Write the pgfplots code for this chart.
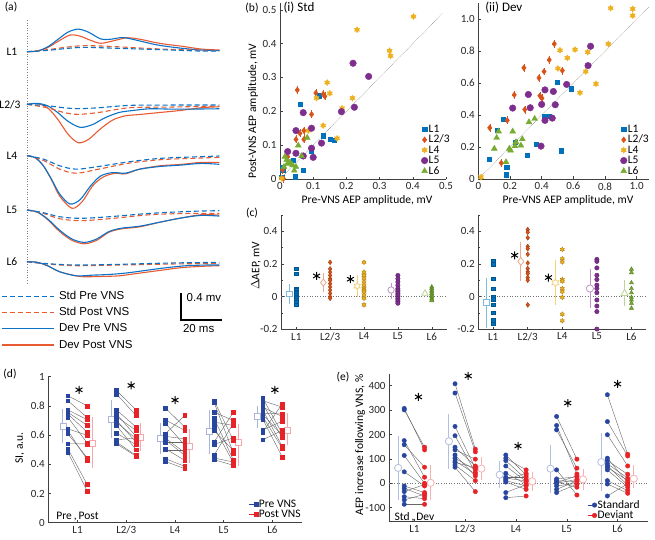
\documentclass[border=0pt]{standalone}
\usepackage{pgfplots}
\usepackage{pgfplotstable}
\pgfplotsset{compat=1.18}
\usepackage{fontspec}
\setmainfont{Carlito}
\newfontfamily\arialf{Liberation Sans}
\definecolor{cA}{RGB}{0,114,189}
\definecolor{cB}{RGB}{217,83,25}
\definecolor{cC}{RGB}{237,177,32}
\definecolor{cD}{RGB}{126,47,142}
\definecolor{cE}{RGB}{119,172,48}
\definecolor{ablue}{RGB}{10,115,200}
\definecolor{ared}{RGB}{232,90,50}
\definecolor{dblue}{RGB}{40,70,160}
\definecolor{dred}{RGB}{232,35,40}
\newcommand{\tsz}{\fontsize{11}{12}\selectfont}
\newcommand{\lsz}{\fontsize{11.5}{13}\selectfont}
\newcommand{\asz}{\arialf\fontsize{11.5}{13}\selectfont}
\pgfdeclareplotmark{hexagram}{%
  \pgfpathmoveto{\pgfqpointpolar{90}{\pgfplotmarksize}}%
  \pgfpathlineto{\pgfqpointpolar{120}{0.577\pgfplotmarksize}}%
  \pgfpathlineto{\pgfqpointpolar{150}{\pgfplotmarksize}}%
  \pgfpathlineto{\pgfqpointpolar{180}{0.577\pgfplotmarksize}}%
  \pgfpathlineto{\pgfqpointpolar{210}{\pgfplotmarksize}}%
  \pgfpathlineto{\pgfqpointpolar{240}{0.577\pgfplotmarksize}}%
  \pgfpathlineto{\pgfqpointpolar{270}{\pgfplotmarksize}}%
  \pgfpathlineto{\pgfqpointpolar{300}{0.577\pgfplotmarksize}}%
  \pgfpathlineto{\pgfqpointpolar{330}{\pgfplotmarksize}}%
  \pgfpathlineto{\pgfqpointpolar{0}{0.577\pgfplotmarksize}}%
  \pgfpathlineto{\pgfqpointpolar{30}{\pgfplotmarksize}}%
  \pgfpathlineto{\pgfqpointpolar{60}{0.577\pgfplotmarksize}}%
  \pgfpathclose
  \pgfusepathqfillstroke}
\tikzset{
  sp/.style={ablue, line width=1.1pt, dash pattern=on 5pt off 3pt},
  so/.style={ared, line width=1.1pt, dash pattern=on 5pt off 3pt},
  dp/.style={ablue, line width=1.1pt},
  do/.style={ared, line width=1.1pt},
}
\pgfplotsset{
  base/.style={scale only axis, anchor=south west, clip=false,
    axis x line*=bottom, axis y line*=left,
    tick align=inside, major tick length=2.5pt, minor tick length=1.5pt,
    axis line style={black!75, line width=0.5pt},
    every tick/.style={black!75, line width=0.5pt},
    tick label style={font=\tsz, text=black!85},
    /pgf/number format/assume math mode=true,
    legend cell align=left},
  cat/.style={xtick={1,2,3,4,5}, xticklabels={L1,L2/3,L4,L5,L6}},
  zero/.style={black!55, dotted, line width=0.6pt, forget plot},
  leg/.style={draw=none, fill=none, font=\lsz, row sep=0pt, inner sep=0pt,
    nodes={inner sep=0.8pt, text height=7.6pt, text depth=1.2pt}},
  star/.style={only marks, black, mark=asterisk, mark size=4pt, line width=1pt, forget plot},
}
\newcommand{\mean}[7]{\addplot[only marks, #1, mark=#2, mark size=#3, mark options={fill=white, line width=0.8pt}, forget plot, error bars/.cd, y dir=both, y explicit, error mark=none, error bar style={line width=0.9pt}] coordinates {(#4,#5) += (0,#6) -= (0,#7)};}
\newcommand{\pairs}[4]{%
  \addplot[black!60, line width=0.4pt, forget plot, quiver={u=0.4, v=\thisrow{b}-\thisrow{a}}] table[x expr=#2-0.2, y=a] {#1};
  \addplot[only marks, mark=#3, dblue, mark size=#4, forget plot] table[x expr=#2-0.2, y=a] {#1};
  \addplot[only marks, mark=#3, dred, mark size=#4, forget plot] table[x expr=#2+0.2, y=b] {#1};}
% (d) SI pre/post pairs
\pgfplotstableread[row sep=\\]{a b\\ 0.870 0.800\\ 0.836 0.720\\ 0.773 0.705\\ 0.757 0.666\\ 0.745 0.620\\ 0.723 0.545\\ 0.643 0.598\\ 0.632 0.430\\ 0.609 0.445\\ 0.541 0.540\\ 0.507 0.261\\ 0.484 0.216\\}\dOne
\pgfplotstableread[row sep=\\]{a b\\ 0.905 0.773\\ 0.882 0.734\\ 0.773 0.655\\ 0.745 0.591\\ 0.727 0.632\\ 0.700 0.552\\ 0.689 0.575\\ 0.666 0.500\\ 0.614 0.534\\ 0.568 0.580\\ 0.552 0.461\\ 0.541 0.455\\}\dTwo
\pgfplotstableread[row sep=\\]{a b\\ 0.786 0.655\\ 0.705 0.632\\ 0.682 0.530\\ 0.609 0.734\\ 0.591 0.575\\ 0.580 0.480\\ 0.568 0.461\\ 0.552 0.552\\ 0.507 0.427\\ 0.500 0.500\\ 0.439 0.386\\ 0.420 0.370\\}\dThree
\pgfplotstableread[row sep=\\]{a b\\ 0.836 0.564\\ 0.825 0.477\\ 0.757 0.700\\ 0.718 0.427\\ 0.689 0.666\\ 0.655 0.410\\ 0.632 0.495\\ 0.552 0.757\\ 0.536 0.582\\ 0.461 0.682\\ 0.443 0.416\\ 0.432 0.393\\}\dFour
\pgfplotstableread[row sep=\\]{a b\\ 0.855 0.609\\ 0.836 0.791\\ 0.814 0.582\\ 0.791 0.727\\ 0.773 0.523\\ 0.750 0.745\\ 0.740 0.600\\ 0.727 0.511\\ 0.711 0.450\\ 0.636 0.695\\ 0.620 0.814\\ 0.568 0.632\\}\dFive
% (e) AEP increase std/dev pairs
\pgfplotstableread[row sep=\\]{a b\\ 307 137\\ 301 148\\ 175 25\\ 158 66\\ 114 0\\ 47 -11\\ -11 -38\\ -21 -52\\ -34 -5\\ -55 -63\\ -68 -45\\ -86 -86\\}\eOne
\pgfplotstableread[row sep=\\]{a b\\ 408 140\\ 370 129\\ 233 62\\ 195 44\\ 148 71\\ 137 99\\ 116 30\\ 103 55\\ 92 38\\ 85 65\\ 75 11\\ 66 -34\\}\eTwo
\pgfplotstableread[row sep=\\]{a b\\ 116 34\\ 103 55\\ 93 16\\ 71 7\\ 41 -3\\ 25 25\\ 21 10\\ 15 41\\ 11 -11\\ 5 -25\\ -38 -5\\ -59 -52\\}\eThree
\pgfplotstableread[row sep=\\]{a b\\ 274 99\\ 237 38\\ 219 62\\ 55 -48\\ 18 27\\ 11 7\\ 5 -16\\ 3 30\\ 0 16\\ -11 0\\ -25 10\\ -38 -4\\}\eFour
\pgfplotstableread[row sep=\\]{a b\\ 363 119\\ 253 112\\ 199 71\\ 103 3\\ 93 37\\ 80 21\\ 71 -7\\ 66 11\\ 55 -16\\ 11 -30\\ -3 -41\\ -52 -2\\}\eFive
\begin{document}
\begin{tikzpicture}
\path[use as bounding box] (0pt,0pt) rectangle (655pt,539pt);
\node[font=\lsz] at (11pt,532pt) {(a)};
\node[font=\lsz] at (252pt,531pt) {(b)};
\node[font=\lsz] at (252pt,326pt) {(c)};
\node[font=\lsz] at (10pt,165pt) {(d)};
\node[font=\lsz] at (343pt,162pt) {(e)};
% ---------------- (a)
\begin{axis}[scale only axis, anchor=south west, at={(27pt,254pt)}, width=193pt, height=270pt,
  xmin=0, xmax=94.3, ymin=-3.456, ymax=0.544, hide axis, clip=false,
  legend style={draw=none, fill=none, font=\asz, at={(-0.135,-0.02)}, anchor=north west, row sep=4.6pt, column sep=4pt, inner sep=0pt,
    nodes={inner sep=0.8pt, text height=8pt, text depth=2pt}},
  legend cell align=left,
  legend image code/.code={\draw[#1] (0pt,0pt) -- (52pt,0pt);}]
\addlegendimage{ablue, line width=1.1pt, dash pattern=on 5pt off 3pt}\addlegendentry{Std Pre VNS}
\addlegendimage{ared, line width=1.1pt, dash pattern=on 5pt off 3pt}\addlegendentry{Std Post VNS}
\addlegendimage{ablue, line width=1.1pt, solid}\addlegendentry{Dev Pre VNS}
\addlegendimage{ared, line width=1.1pt, solid}\addlegendentry{Dev Post VNS}
\addplot[black!50, dotted, line width=0.6pt, forget plot] coordinates {(0,0.47)(0,-3.43)};
% L1
\addplot[do, smooth, forget plot] coordinates {(0,0)(5,0.01)(10,0.06)(15,0.15)(21,0.247)(26,0.23)(31,0.17)(36,0.125)(42,0.16)(49,0.207)(56,0.18)(62,0.14)(68,0.11)(76,0.08)(85,0.04)(94,0.025)};
\addplot[dp, smooth, forget plot] coordinates {(0,0)(5,0.01)(10,0.07)(15,0.18)(20,0.29)(25,0.335)(30,0.29)(36,0.19)(41,0.185)(47,0.21)(55,0.16)(62,0.11)(68,0.08)(76,0.05)(85,0.025)(94,0.015)};
\addplot[so, smooth, forget plot] coordinates {(0,0)(10,0.03)(20,0.07)(28,0.09)(40,0.08)(55,0.055)(70,0.035)(85,0.025)(94,0.025)};
\addplot[sp, smooth, forget plot] coordinates {(0,0)(10,0.02)(20,0.05)(28,0.065)(40,0.055)(55,0.04)(70,0.025)(85,0.01)(94,0.01)};
% L2/3
\addplot[do, smooth, forget plot, y filter/.expression={y-0.78}] coordinates {(0,0)(5,0.01)(10,-0.05)(15,-0.22)(20,-0.44)(25,-0.568)(30,-0.52)(36,-0.36)(42,-0.23)(48,-0.17)(55,-0.15)(65,-0.12)(75,-0.09)(85,-0.05)(94,-0.035)};
\addplot[dp, smooth, forget plot, y filter/.expression={y-0.78}] coordinates {(0,0)(5,0.015)(10,-0.02)(15,-0.12)(20,-0.25)(26,-0.34)(32,-0.3)(38,-0.2)(45,-0.12)(52,-0.09)(60,-0.065)(70,-0.07)(80,-0.07)(94,-0.065)};
\addplot[so, smooth, forget plot, y filter/.expression={y-0.78}] coordinates {(0,0)(10,-0.05)(18,-0.12)(25,-0.148)(35,-0.12)(50,-0.05)(70,-0.04)(94,-0.025)};
\addplot[sp, smooth, forget plot, y filter/.expression={y-0.78}] coordinates {(0,0)(10,-0.02)(18,-0.05)(25,-0.064)(35,-0.05)(50,-0.015)(70,-0.01)(94,-0.01)};
% L4
\addplot[do, smooth, forget plot, y filter/.expression={y-1.54}] coordinates {(0,0)(4,-0.03)(8,-0.15)(12,-0.36)(16,-0.6)(22,-0.78)(27,-0.68)(32,-0.45)(37,-0.32)(43,-0.26)(48,-0.27)(55,-0.2)(65,-0.15)(75,-0.13)(85,-0.1)(94,-0.1)};
\addplot[dp, smooth, forget plot, y filter/.expression={y-1.54}] coordinates {(0,0)(4,-0.03)(8,-0.15)(12,-0.35)(16,-0.57)(21,-0.716)(26,-0.65)(31,-0.45)(36,-0.3)(42,-0.25)(48,-0.26)(55,-0.2)(65,-0.16)(75,-0.14)(85,-0.115)(94,-0.128)};
\addplot[so, smooth, forget plot, y filter/.expression={y-1.54}] coordinates {(0,0)(8,-0.07)(16,-0.2)(24,-0.26)(35,-0.2)(50,-0.11)(65,-0.06)(80,-0.04)(94,-0.025)};
\addplot[sp, smooth, forget plot, y filter/.expression={y-1.54}] coordinates {(0,0)(8,-0.05)(16,-0.15)(24,-0.2)(35,-0.16)(50,-0.09)(65,-0.04)(80,-0.02)(94,-0.005)};
% L5
\addplot[do, smooth, forget plot, y filter/.expression={y-2.345}] coordinates {(0,0)(5,-0.03)(10,-0.14)(16,-0.32)(22,-0.45)(28,-0.5)(34,-0.45)(40,-0.33)(46,-0.28)(55,-0.25)(65,-0.18)(75,-0.12)(85,-0.07)(94,-0.075)};
\addplot[dp, smooth, forget plot, y filter/.expression={y-2.345}] coordinates {(0,0)(5,-0.03)(10,-0.13)(16,-0.3)(22,-0.43)(28,-0.48)(34,-0.43)(40,-0.32)(46,-0.27)(55,-0.24)(65,-0.18)(75,-0.12)(85,-0.08)(94,-0.09)};
\addplot[so, smooth, forget plot, y filter/.expression={y-2.345}] coordinates {(0,0)(8,-0.05)(16,-0.13)(26,-0.158)(40,-0.13)(60,-0.07)(80,-0.05)(94,-0.05)};
\addplot[sp, smooth, forget plot, y filter/.expression={y-2.345}] coordinates {(0,0)(8,-0.04)(16,-0.1)(26,-0.123)(40,-0.1)(60,-0.05)(80,-0.02)(94,-0.01)};
% L6
\addplot[do, smooth, forget plot, y filter/.expression={y-3.11}] coordinates {(0,0)(5,-0.01)(10,-0.06)(16,-0.15)(26,-0.22)(35,-0.22)(45,-0.21)(55,-0.17)(65,-0.13)(75,-0.09)(85,-0.07)(94,-0.06)};
\addplot[dp, smooth, forget plot, y filter/.expression={y-3.11}] coordinates {(0,0)(5,-0.01)(10,-0.06)(16,-0.15)(24,-0.21)(32,-0.2)(40,-0.19)(48,-0.17)(58,-0.13)(68,-0.09)(78,-0.06)(88,-0.05)(94,-0.05)};
\addplot[so, smooth, forget plot, y filter/.expression={y-3.11}] coordinates {(0,0)(10,-0.035)(24,-0.06)(45,-0.05)(70,-0.035)(94,-0.025)};
\addplot[sp, smooth, forget plot, y filter/.expression={y-3.11}] coordinates {(0,0)(10,-0.03)(24,-0.05)(45,-0.04)(70,-0.02)(94,-0.01)};
% scale bar
\addplot[black, line width=1.8pt, line join=miter, forget plot] coordinates {(75.1,-3.575)(75.1,-3.975)(95.1,-3.975)};
\node[anchor=west, font=\asz] at (axis cs:76.3,-3.64) {0.4 mv};
\node[anchor=west, font=\asz] at (axis cs:74.5,-4.1) {20 ms};
\node[anchor=east, font=\lsz] at (axis cs:-3,0) {L1};
\node[anchor=east, font=\lsz] at (axis cs:-1.5,-0.78) {L2/3};
\node[anchor=east, font=\lsz] at (axis cs:-3,-1.54) {L4};
\node[anchor=east, font=\lsz] at (axis cs:-3,-2.345) {L5};
\node[anchor=east, font=\lsz] at (axis cs:-3,-3.11) {L6};
\end{axis}
% ---------------- (b)(i)
\node[rotate=90, font=\lsz] at (253pt,428pt) {Post-VNS AEP amplitude, mV};
\node[font=\lsz] at (367pt,339pt) {Pre-VNS AEP amplitude, mV};
\node[font=\lsz] at (568pt,339pt) {Pre-VNS AEP amplitude, mV};
\begin{axis}[base, at={(280pt,360pt)}, width=166pt, height=176pt, xmin=0, xmax=0.5, ymin=0, ymax=0.52,
  xtick={0,0.1,0.2,0.3,0.4,0.5}, ytick={0,0.1,0.2,0.3,0.4,0.5},
  legend style={leg, at={(0.85,0.015)}, anchor=south west}]
\addplot[black!55, densely dotted, line width=0.5pt, forget plot] coordinates {(0,0)(0.49,0.49)};
\addplot[only marks, cA, mark=square*, mark size=2.1pt] coordinates {(0.062,0.221)(0.117,0.246)(0.13,0.128)(0.15,0.118)(0.163,0.115)(0.094,0.083)(0.04,0.056)(0.07,0.025)(0.045,0.007)(0.008,0.035)(0.008,0.025)(0.005,0.005)};
\addplot[only marks, cB, mark=diamond*, mark size=2.9pt, error bars/.cd, x dir=both, x fixed=0.006, y dir=both, y fixed=0.012, error mark=none] coordinates {(0.052,0.263)(0.108,0.254)(0.13,0.251)(0.135,0.244)(0.095,0.191)(0.072,0.143)(0.06,0.135)(0.048,0.117)(0.072,0.117)(0.023,0.066)(0.008,0.027)(0.01,0.001)};
\addplot[only marks, cC, mark=hexagram, mark size=3pt] coordinates {(0.402,0.48)(0.232,0.441)(0.33,0.379)(0.333,0.364)(0.142,0.285)(0.15,0.253)(0.11,0.239)(0.218,0.239)(0.187,0.209)(0.13,0.158)(0.172,0.12)(0.085,0.143)(0.005,0.002)};
\addplot[only marks, cD, mark=*, mark size=3.3pt] coordinates {(0.22,0.342)(0.267,0.303)(0.224,0.212)(0.185,0.199)(0.07,0.196)(0.095,0.15)(0.048,0.143)(0.125,0.106)(0.095,0.091)(0.1,0.064)(0.07,0.068)(0.048,0.076)(0.023,0.081)};
\addplot[only marks, cE, mark=triangle*, mark size=3.4pt] coordinates {(0.082,0.122)(0.055,0.099)(0.065,0.068)(0.015,0.066)(0.02,0.056)(0.028,0.046)(0.038,0.041)(0.048,0.036)(0.043,0.025)(0.012,0.036)(0.03,0.05)(0.022,0.045)};
\legend{L1,L2/3,L4,L5,L6}
\node[anchor=west, font=\fontsize{13}{15}\selectfont] at (rel axis cs:0.0,0.975) {(i) Std};
\end{axis}
% ---------------- (b)(ii)
\begin{axis}[base, at={(478.3pt,360pt)}, width=171pt, height=175.7pt, xmin=0, xmax=1.08, ymin=0, ymax=1.1,
  xtick={0,0.2,0.4,0.6,0.8,1}, xticklabels={0,0.2,0.4,0.6,0.8,1.0},
  ytick={0,0.2,0.4,0.6,0.8,1}, yticklabels={0,0.2,0.4,0.6,0.8,1.0},
  legend style={leg, at={(0.83,0.015)}, anchor=south west}]
\addplot[black!55, densely dotted, line width=0.5pt, forget plot] coordinates {(0,0)(1.08,1.08)};
\addplot[only marks, cA, mark=square*, mark size=2.1pt] coordinates {(0.069,0.123)(0.12,0.308)(0.158,0.375)(0.232,0.231)(0.179,0.075)(0.175,0.027)(0.364,0.217)(0.309,0.148)(0.415,0.394)(0.446,0.394)(0.499,0.606)(0.589,0.565)(0.522,0.177)};
\addplot[only marks, cB, mark=diamond*, mark size=2.9pt, error bars/.cd, x dir=both, x fixed=0.013, y dir=both, y fixed=0.025, error mark=none] coordinates {(0.48,0.846)(0.448,0.746)(0.415,0.673)(0.383,0.633)(0.288,0.696)(0.531,0.679)(0.389,0.521)(0.402,0.506)(0.227,0.527)(0.293,0.435)(0.183,0.367)(0.072,0.321)(0.145,0.1)};
\addplot[only marks, cC, mark=hexagram, mark size=3pt] coordinates {(0.836,1.069)(0.975,1.065)(0.975,1.023)(0.821,0.846)(0.516,0.806)(0.611,0.81)(0.691,0.794)(0.562,0.758)(0.503,0.692)(0.678,0.673)(0.743,0.596)(0.642,0.54)(0.017,0.012)};
\addplot[only marks, cD, mark=*, mark size=3.3pt] coordinates {(0.709,0.831)(0.693,0.71)(0.558,0.592)(0.421,0.558)(0.474,0.548)(0.316,0.529)(0.328,0.446)(0.217,0.444)(0.4,0.467)(0.486,0.465)(0.467,0.381)(0.421,0.367)(0.396,0.206)};
\addplot[only marks, cE, mark=triangle*, mark size=3.4pt] coordinates {(0.32,0.356)(0.356,0.377)(0.217,0.298)(0.128,0.298)(0.116,0.258)(0.101,0.19)(0.196,0.19)(0.204,0.179)(0.238,0.231)(0.232,0.206)(0.278,0.25)(0.269,0.21)(0.175,0.106)};
\legend{L1,L2/3,L4,L5,L6}
\node[anchor=west, font=\fontsize{13}{15}\selectfont] at (rel axis cs:0.02,0.975) {(ii) Dev};
\end{axis}
% ---------------- (c)(i)
\node[rotate=90, font=\lsz] at (256pt,273pt) {$\Delta$AEP, mV};
\begin{axis}[base, cat, at={(281pt,209.6pt)}, width=166pt, height=114.5pt, xmin=0.55, xmax=5.45, ymin=-0.2, ymax=0.5,
  ytick={-0.2,0,0.2,0.4}, minor ytick={-0.1,0.1,0.3,0.5}]
\addplot[zero] coordinates {(0.55,0)(5.45,0)};
\mean{cA!50!white}{square*}{2.6pt}{0.8}{0.016}{0.062}{0.061}
\mean{cB!50!white}{diamond*}{3.6pt}{1.8}{0.086}{0.057}{0.056}
\mean{cC!60!white}{hexagram}{3.6pt}{2.8}{0.065}{0.068}{0.065}
\mean{cD!50!white}{*}{3.2pt}{3.8}{0.041}{0.045}{0.057}
\mean{cE!50!white}{triangle*}{3.6pt}{4.8}{0.02}{0.012}{0.015}
\addplot[only marks, cA, mark=square*, mark size=1.8pt, mark options={draw=cA!75!black}] coordinates {(1,0.17)(1,0.14)(1,0.05)(1,0.04)(1,0.03)(1,0.02)(1,0.01)(1,0)(1,-0.01)(1,-0.02)(1,-0.03)(1,-0.05)};
\addplot[only marks, cB, mark=diamond*, mark size=2.4pt, mark options={draw=cB!75!black}] coordinates {(2,0.21)(2,0.17)(2,0.15)(2,0.13)(2,0.11)(2,0.1)(2,0.08)(2,0.06)(2,0.04)(2,0.02)(2,0)(2,-0.01)};
\addplot[only marks, cC, mark=hexagram, mark size=2.4pt, mark options={draw=cC!75!black}] coordinates {(3,0.21)(3,0.15)(3,0.13)(3,0.11)(3,0.09)(3,0.07)(3,0.05)(3,0.04)(3,0.03)(3,0.01)(3,-0.01)(3,-0.05)};
\addplot[only marks, cD, mark=*, mark size=2.2pt, mark options={draw=cD!75!black}] coordinates {(4,0.13)(4,0.11)(4,0.09)(4,0.07)(4,0.05)(4,0.04)(4,0.03)(4,0.02)(4,0.01)(4,0)(4,-0.01)(4,-0.02)(4,-0.03)(4,-0.04)};
\addplot[only marks, cE, mark=triangle*, mark size=2.4pt, mark options={draw=cE!75!black}] coordinates {(5,0.06)(5,0.05)(5,0.04)(5,0.03)(5,0.02)(5,0.01)(5,0)(5,-0.01)(5,-0.02)(5,-0.025)};
\addplot[star] coordinates {(1.6,0.127)(2.6,0.107)};
\end{axis}
% ---------------- (c)(ii)
\begin{axis}[base, cat, at={(478.3pt,209.6pt)}, width=168pt, height=114.5pt, xmin=0.57, xmax=5.43, ymin=-0.2, ymax=0.5,
  ytick={-0.2,0,0.2,0.4}, minor ytick={-0.1,0.1,0.3,0.5}]
\addplot[zero] coordinates {(0.57,0)(5.43,0)};
\mean{cA!50!white}{square*}{3pt}{0.8}{-0.036}{0.153}{0.154}
\mean{cB!50!white}{diamond*}{4pt}{1.8}{0.216}{0.117}{0.121}
\mean{cC!60!white}{hexagram}{4pt}{2.8}{0.085}{0.137}{0.135}
\mean{cD!50!white}{*}{3.6pt}{3.8}{0.05}{0.118}{0.12}
\mean{cE!50!white}{triangle*}{4pt}{4.8}{0.02}{0.08}{0.077}
\addplot[only marks, cA, mark=square*, mark size=1.8pt, mark options={draw=cA!75!black}] coordinates {(1,0.218)(1,0.198)(1,0.111)(1,0.05)(1,0)(1,-0.014)(1,-0.05)(1,-0.097)(1,-0.145)(1,-0.166)};
\addplot[only marks, cB, mark=diamond*, mark size=2.4pt, mark options={draw=cB!75!black}] coordinates {(2,0.41)(2,0.394)(2,0.36)(2,0.307)(2,0.293)(2,0.259)(2,0.206)(2,0.172)(2,0.152)(2,0.141)(2,0.117)(2,0.101)(2,-0.05)};
\addplot[only marks, cC, mark=hexagram, mark size=2.4pt, mark options={draw=cC!75!black}] coordinates {(3,0.289)(3,0.232)(3,0.212)(3,0.105)(3,0.095)(3,0.05)(3,0.03)(3,-0.004)(3,-0.107)(3,-0.147)};
\addplot[only marks, cD, mark=*, mark size=2.2pt, mark options={draw=cD!75!black}] coordinates {(4,0.228)(4,0.216)(4,0.176)(4,0.131)(4,0.105)(4,0.071)(4,0.05)(4,0.024)(4,-0.02)(4,-0.057)(4,-0.091)(4,-0.198)};
\addplot[only marks, cE, mark=triangle*, mark size=2.4pt, mark options={draw=cE!75!black}] coordinates {(5,0.168)(5,0.147)(5,0.085)(5,0.05)(5,0.024)(5,-0.004)(5,-0.02)(5,-0.04)(5,-0.07)};
\addplot[star] coordinates {(1.62,0.253)(2.6,0.117)};
\end{axis}
% ---------------- (d)
\node[rotate=90, font=\lsz] at (20pt,91pt) {SI, a.u.};
\begin{axis}[base, cat, at={(48.3pt,16.3pt)}, width=253.4pt, height=146pt, xmin=0.4, xmax=5.6, ymin=0, ymax=1,
  ytick={0,0.2,0.4,0.6,0.8,1},
  legend style={leg, at={(0.79,0.02)}, anchor=south west},
  legend image code/.code={\draw[#1, mark=none] (0pt,0pt) -- (9pt,0pt); \draw[#1, only marks] plot coordinates {(7pt,0pt)};}]
\addlegendimage{dblue, mark=square*, mark size=2pt}\addlegendentry{Pre VNS}
\addlegendimage{dred, mark=square*, mark size=2pt}\addlegendentry{Post VNS}
\mean{dblue!40!white}{square*}{3pt}{0.7}{0.657}{0.121}{0.113}
\mean{dred!40!white}{square*}{3pt}{1.3}{0.545}{0.182}{0.168}
\mean{dblue!40!white}{square*}{3pt}{1.7}{0.71}{0.13}{0.13}
\mean{dred!40!white}{square*}{3pt}{2.3}{0.585}{0.095}{0.095}
\mean{dblue!40!white}{square*}{3pt}{2.7}{0.575}{0.105}{0.105}
\mean{dred!40!white}{square*}{3pt}{3.3}{0.525}{0.115}{0.115}
\mean{dblue!40!white}{square*}{3pt}{3.7}{0.625}{0.145}{0.155}
\mean{dred!40!white}{square*}{3pt}{4.3}{0.55}{0.127}{0.164}
\mean{dblue!40!white}{square*}{3pt}{4.7}{0.73}{0.07}{0.08}
\mean{dred!40!white}{square*}{3pt}{5.3}{0.635}{0.115}{0.105}
\pairs{\dOne}{1}{square*}{1.9pt}
\pairs{\dTwo}{2}{square*}{1.9pt}
\pairs{\dThree}{3}{square*}{1.9pt}
\pairs{\dFour}{4}{square*}{1.9pt}
\pairs{\dFive}{5}{square*}{1.9pt}
\addplot[star] coordinates {(1.03,0.91)(2.1,0.94)(3.0,0.84)(5.05,0.91)};
\node[font=\lsz] at (axis cs:1,0.045) {Pre\,,\,Post};
\end{axis}
% ---------------- (e)
\node[rotate=90, font=\lsz] at (360pt,94pt) {AEP increase following VNS, \%};
\begin{axis}[base, cat, at={(389pt,17.4pt)}, width=259pt, height=148.1pt, xmin=0.5, xmax=5.6, ymin=-157, ymax=450,
  ytick={-100,0,100,200,300,400},
  legend style={leg, at={(0.765,0.005)}, anchor=south west},
  legend image code/.code={\draw[#1, mark=none] (0pt,0pt) -- (9pt,0pt); \draw[#1, only marks] plot coordinates {(7pt,0pt)};}]
\addlegendimage{dblue, mark=*, mark size=2.3pt}\addlegendentry{Standard}
\addlegendimage{dred, mark=*, mark size=2.3pt}\addlegendentry{Deviant}
\addplot[zero] coordinates {(0.5,0)(5.6,0)};
\mean{dblue!35!white}{*}{3.6pt}{0.68}{63}{132}{133}
\mean{dred!35!white}{*}{3.6pt}{1.32}{2}{73}{70}
\mean{dblue!35!white}{*}{3.6pt}{1.68}{172}{110}{114}
\mean{dred!35!white}{*}{3.6pt}{2.32}{60}{48}{45}
\mean{dblue!35!white}{*}{3.6pt}{2.68}{35}{55}{53}
\mean{dred!35!white}{*}{3.6pt}{3.32}{8}{37}{38}
\mean{dblue!35!white}{*}{3.6pt}{3.68}{60}{95}{98}
\mean{dred!35!white}{*}{3.6pt}{4.32}{16}{44}{44}
\mean{dblue!35!white}{*}{3.6pt}{4.68}{87}{118}{117}
\mean{dred!35!white}{*}{3.6pt}{5.32}{19}{56}{39}
\pairs{\eOne}{1}{*}{2.2pt}
\pairs{\eTwo}{2}{*}{2.2pt}
\pairs{\eThree}{3}{*}{2.2pt}
\pairs{\eFour}{4}{*}{2.2pt}
\pairs{\eFive}{5}{*}{2.2pt}
\addplot[star] coordinates {(1.08,354)(2.06,440)(3.04,153)(4.02,329)(5.0,407)};
\node[font=\lsz] at (axis cs:1,-138) {Std\,,\,Dev};
\end{axis}
\end{tikzpicture}
\end{document}
